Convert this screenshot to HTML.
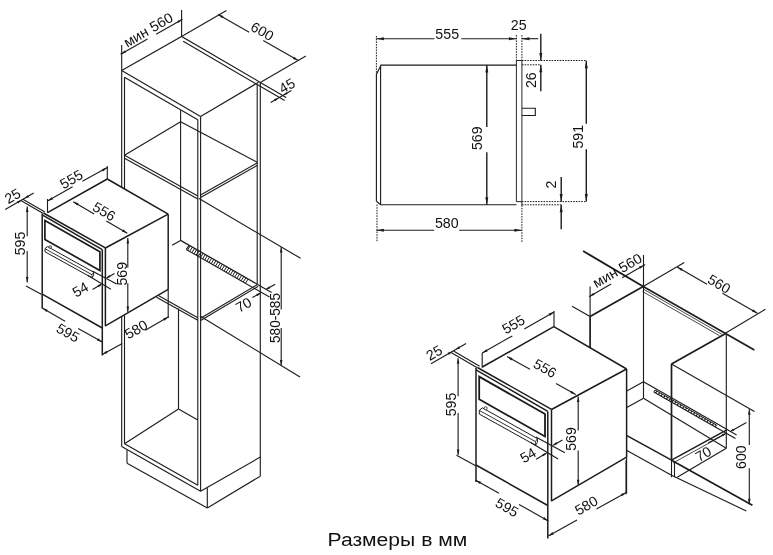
<!DOCTYPE html>
<html><head><meta charset="utf-8"><style>
html,body{margin:0;padding:0;background:#fff;}
svg{display:block;will-change:transform;font-family:"Liberation Sans",sans-serif;fill:#111;}
</style></head><body>
<svg width="773" height="555" viewBox="0 0 773 555">
<rect width="773" height="555" fill="#fff"/>
<path d="M121.7 70.6 L181.6 36.5 L260.3 82.4" fill="none" stroke="#1c1c1c" stroke-width="1.12" stroke-linejoin="miter"/>
<line x1="258.6" y1="82.2" x2="200.6" y2="116.5" stroke="#1c1c1c" stroke-width="1.12"/>
<line x1="121.7" y1="70.6" x2="200.6" y2="116.5" stroke="#1c1c1c" stroke-width="1.12"/>
<line x1="124.4" y1="77.2" x2="197.8" y2="119.7" stroke="#1c1c1c" stroke-width="1.12"/>
<line x1="183.2" y1="41.2" x2="257.2" y2="84.6" stroke="#1c1c1c" stroke-width="1.12"/>
<line x1="121.7" y1="70.6" x2="121.7" y2="446.5" stroke="#1c1c1c" stroke-width="1.12"/>
<line x1="124.5" y1="77.2" x2="124.5" y2="443.7" stroke="#1c1c1c" stroke-width="1.12"/>
<line x1="197.8" y1="119.7" x2="197.8" y2="485.2" stroke="#1c1c1c" stroke-width="1.12"/>
<line x1="200.6" y1="116.5" x2="200.6" y2="491.2" stroke="#1c1c1c" stroke-width="1.12"/>
<line x1="257.2" y1="84.6" x2="257.2" y2="284.4" stroke="#1c1c1c" stroke-width="1.12"/>
<line x1="260.3" y1="82.4" x2="260.3" y2="476.2" stroke="#1c1c1c" stroke-width="1.12"/>
<line x1="180.6" y1="110.3" x2="180.6" y2="240.4" stroke="#1c1c1c" stroke-width="1.1"/>
<line x1="124.5" y1="155.2" x2="180.6" y2="121.7" stroke="#1c1c1c" stroke-width="1.12"/>
<line x1="180.6" y1="121.7" x2="257.2" y2="162.3" stroke="#1c1c1c" stroke-width="1.12"/>
<line x1="124.5" y1="155.2" x2="197.8" y2="196.0" stroke="#1c1c1c" stroke-width="1.12"/>
<line x1="124.5" y1="158.2" x2="197.8" y2="199.0" stroke="#1c1c1c" stroke-width="1.12"/>
<line x1="200.6" y1="195.1" x2="257.2" y2="162.9" stroke="#1c1c1c" stroke-width="1.12"/>
<line x1="200.6" y1="197.6" x2="257.2" y2="165.4" stroke="#1c1c1c" stroke-width="1.12"/>
<line x1="157.5" y1="295.0" x2="197.8" y2="317.8" stroke="#1c1c1c" stroke-width="1.12"/>
<line x1="156.5" y1="297.3" x2="197.8" y2="320.3" stroke="#1c1c1c" stroke-width="1.12"/>
<line x1="200.6" y1="318.2" x2="257.2" y2="284.7" stroke="#1c1c1c" stroke-width="1.12"/>
<line x1="200.6" y1="320.5" x2="258.3" y2="286.3" stroke="#1c1c1c" stroke-width="1.12"/>
<line x1="180.6" y1="240.4" x2="172.1" y2="245.3" stroke="#1c1c1c" stroke-width="1.12"/>
<line x1="180.6" y1="240.4" x2="257.2" y2="284.2" stroke="#1c1c1c" stroke-width="1.25"/>
<line x1="257.2" y1="284.2" x2="271.6" y2="292.5" stroke="#1c1c1c" stroke-width="1.12"/>
<line x1="186.2" y1="249.4" x2="269.5" y2="297.1" stroke="#1c1c1c" stroke-width="1.12"/>
<line x1="186.2" y1="249.4" x2="189.3" y2="245.4" stroke="#1c1c1c" stroke-width="1.12"/>
<line x1="187.6" y1="250.2" x2="190.3" y2="245.9" stroke="#1c1c1c" stroke-width="1.0"/>
<line x1="189.7" y1="251.4" x2="192.4" y2="247.2" stroke="#1c1c1c" stroke-width="1.0"/>
<line x1="191.9" y1="252.7" x2="194.6" y2="248.4" stroke="#1c1c1c" stroke-width="1.0"/>
<line x1="194.0" y1="253.9" x2="196.7" y2="249.6" stroke="#1c1c1c" stroke-width="1.0"/>
<line x1="196.2" y1="255.1" x2="198.9" y2="250.8" stroke="#1c1c1c" stroke-width="1.0"/>
<line x1="198.3" y1="256.3" x2="201.0" y2="252.1" stroke="#1c1c1c" stroke-width="1.0"/>
<line x1="200.4" y1="257.5" x2="203.1" y2="253.3" stroke="#1c1c1c" stroke-width="1.0"/>
<line x1="202.6" y1="258.8" x2="205.3" y2="254.5" stroke="#1c1c1c" stroke-width="1.0"/>
<line x1="204.7" y1="260.0" x2="207.4" y2="255.7" stroke="#1c1c1c" stroke-width="1.0"/>
<line x1="206.9" y1="261.2" x2="209.6" y2="257.0" stroke="#1c1c1c" stroke-width="1.0"/>
<line x1="209.0" y1="262.4" x2="211.7" y2="258.2" stroke="#1c1c1c" stroke-width="1.0"/>
<line x1="211.1" y1="263.7" x2="213.8" y2="259.4" stroke="#1c1c1c" stroke-width="1.0"/>
<line x1="213.3" y1="264.9" x2="216.0" y2="260.6" stroke="#1c1c1c" stroke-width="1.0"/>
<line x1="215.4" y1="266.1" x2="218.1" y2="261.9" stroke="#1c1c1c" stroke-width="1.0"/>
<line x1="217.6" y1="267.3" x2="220.3" y2="263.1" stroke="#1c1c1c" stroke-width="1.0"/>
<line x1="219.7" y1="268.6" x2="222.4" y2="264.3" stroke="#1c1c1c" stroke-width="1.0"/>
<line x1="221.8" y1="269.8" x2="224.5" y2="265.5" stroke="#1c1c1c" stroke-width="1.0"/>
<line x1="224.0" y1="271.0" x2="226.7" y2="266.8" stroke="#1c1c1c" stroke-width="1.0"/>
<line x1="226.1" y1="272.2" x2="228.8" y2="268.0" stroke="#1c1c1c" stroke-width="1.0"/>
<line x1="228.3" y1="273.5" x2="231.0" y2="269.2" stroke="#1c1c1c" stroke-width="1.0"/>
<line x1="230.4" y1="274.7" x2="233.1" y2="270.4" stroke="#1c1c1c" stroke-width="1.0"/>
<line x1="232.5" y1="275.9" x2="235.2" y2="271.6" stroke="#1c1c1c" stroke-width="1.0"/>
<line x1="234.7" y1="277.1" x2="237.4" y2="272.9" stroke="#1c1c1c" stroke-width="1.0"/>
<line x1="236.8" y1="278.4" x2="239.5" y2="274.1" stroke="#1c1c1c" stroke-width="1.0"/>
<line x1="239.0" y1="279.6" x2="241.7" y2="275.3" stroke="#1c1c1c" stroke-width="1.0"/>
<line x1="241.1" y1="280.8" x2="243.8" y2="276.5" stroke="#1c1c1c" stroke-width="1.0"/>
<line x1="243.2" y1="282.0" x2="245.9" y2="277.8" stroke="#1c1c1c" stroke-width="1.0"/>
<line x1="245.4" y1="283.3" x2="248.1" y2="279.0" stroke="#1c1c1c" stroke-width="1.0"/>
<line x1="121.7" y1="446.5" x2="200.6" y2="491.2" stroke="#1c1c1c" stroke-width="1.12"/>
<line x1="124.5" y1="443.7" x2="197.8" y2="485.2" stroke="#1c1c1c" stroke-width="1.12"/>
<line x1="124.5" y1="443.7" x2="178.5" y2="409.0" stroke="#1c1c1c" stroke-width="1.12"/>
<line x1="178.5" y1="409.0" x2="197.8" y2="420.1" stroke="#1c1c1c" stroke-width="1.12"/>
<line x1="178.5" y1="308.5" x2="178.5" y2="409.0" stroke="#1c1c1c" stroke-width="1.12"/>
<line x1="200.6" y1="491.2" x2="260.3" y2="457.1" stroke="#1c1c1c" stroke-width="1.12"/>
<line x1="127.0" y1="450.1" x2="127.0" y2="463.2" stroke="#1c1c1c" stroke-width="1.12"/>
<line x1="127.0" y1="463.2" x2="207.3" y2="507.9" stroke="#1c1c1c" stroke-width="1.12"/>
<line x1="207.3" y1="487.5" x2="207.3" y2="507.9" stroke="#1c1c1c" stroke-width="1.12"/>
<line x1="207.3" y1="507.9" x2="260.3" y2="476.2" stroke="#1c1c1c" stroke-width="1.12"/>
<line x1="121.7" y1="45.0" x2="121.7" y2="70.6" stroke="#1c1c1c" stroke-width="1.12"/>
<line x1="181.6" y1="10.0" x2="181.6" y2="36.5" stroke="#1c1c1c" stroke-width="1.12"/>
<line x1="120.6" y1="54.2" x2="147.5" y2="39.0" stroke="#1c1c1c" stroke-width="1.12"/>
<line x1="156.1" y1="34.2" x2="182.6" y2="19.3" stroke="#1c1c1c" stroke-width="1.12"/>
<polygon points="120.6,54.2 124.8,50.4 126.0,52.6" fill="#1c1c1c"/>
<polygon points="182.6,19.3 178.4,23.1 177.2,20.9" fill="#1c1c1c"/>
<text transform="translate(148.0 29.5) rotate(-30) scale(1.02 1)" font-size="14.2" text-anchor="middle" y="5.28">мин 560</text>
<line x1="181.6" y1="36.5" x2="226.5" y2="10.4" stroke="#1c1c1c" stroke-width="1.12"/>
<line x1="260.3" y1="82.4" x2="305.9" y2="56.1" stroke="#1c1c1c" stroke-width="1.12"/>
<line x1="218.1" y1="14.4" x2="249.2" y2="32.3" stroke="#1c1c1c" stroke-width="1.12"/>
<line x1="263.2" y1="40.4" x2="298.3" y2="60.6" stroke="#1c1c1c" stroke-width="1.12"/>
<polygon points="218.1,14.4 223.5,16.0 222.2,18.3" fill="#1c1c1c"/>
<polygon points="298.3,60.6 292.9,59.0 294.2,56.7" fill="#1c1c1c"/>
<text transform="translate(262.5 31.0) rotate(30) scale(1.0 1)" font-size="14.2" text-anchor="middle" y="5.28">600</text>
<line x1="260.3" y1="82.4" x2="286.2" y2="97.5" stroke="#1c1c1c" stroke-width="1.12"/>
<line x1="257.2" y1="84.6" x2="284.7" y2="100.6" stroke="#1c1c1c" stroke-width="1.12"/>
<line x1="270.7" y1="102.4" x2="291.4" y2="90.5" stroke="#1c1c1c" stroke-width="1.12"/>
<polygon points="278.6,97.9 275.3,101.2 274.1,99.1" fill="#1c1c1c"/>
<polygon points="283.2,95.2 286.5,91.9 287.7,94.0" fill="#1c1c1c"/>
<text transform="translate(286.8 85.4) rotate(-30) scale(1.0 1)" font-size="14.2" text-anchor="middle" y="5.28">45</text>
<line x1="199.0" y1="198.6" x2="300.6" y2="258.3" stroke="#1c1c1c" stroke-width="1.12"/>
<line x1="200.0" y1="316.0" x2="300.0" y2="377.0" stroke="#1c1c1c" stroke-width="1.12"/>
<line x1="281.2" y1="247.0" x2="281.2" y2="309.5" stroke="#1c1c1c" stroke-width="1.12"/>
<line x1="281.2" y1="328.0" x2="281.2" y2="365.4" stroke="#1c1c1c" stroke-width="1.12"/>
<polygon points="281.2,247.0 282.5,252.5 279.9,252.5" fill="#1c1c1c"/>
<polygon points="281.2,365.4 279.9,359.9 282.5,359.9" fill="#1c1c1c"/>
<text transform="translate(274.3 318.0) rotate(-90) scale(0.96 1)" font-size="14.2" text-anchor="middle" y="5.28">580-585</text>
<line x1="252.4" y1="297.6" x2="260.7" y2="293.0" stroke="#1c1c1c" stroke-width="1.12"/>
<polygon points="260.7,293.0 257.3,296.2 256.2,294.1" fill="#1c1c1c"/>
<line x1="275.2" y1="284.2" x2="265.9" y2="289.5" stroke="#1c1c1c" stroke-width="1.12"/>
<polygon points="265.9,289.5 269.2,286.2 270.4,288.3" fill="#1c1c1c"/>
<text transform="translate(243.4 304.6) rotate(-30) scale(1.0 1)" font-size="14.2" text-anchor="middle" y="5.28">70</text>
<path d="M42.2 213.4 L47.5 212.6 L107.3 179.0 L168.2 214.2 L168.2 289.9 L105.5 326.2 L103.3 328.3 L42.2 294.2 Z" fill="#fff" stroke="#1c1c1c" stroke-width="0" stroke-linejoin="miter"/>
<line x1="42.2" y1="213.4" x2="42.2" y2="308.5" stroke="#1c1c1c" stroke-width="1.5"/>
<line x1="43.4" y1="213.0" x2="105.4" y2="247.8" stroke="#1c1c1c" stroke-width="1.5"/>
<line x1="42.2" y1="214.9" x2="102.3" y2="249.6" stroke="#1c1c1c" stroke-width="1.5"/>
<line x1="42.2" y1="294.2" x2="102.3" y2="328.0" stroke="#1c1c1c" stroke-width="1.5"/>
<line x1="102.3" y1="249.6" x2="102.3" y2="355.5" stroke="#1c1c1c" stroke-width="1.5"/>
<line x1="105.4" y1="247.8" x2="105.4" y2="326.2" stroke="#1c1c1c" stroke-width="1.5"/>
<line x1="47.5" y1="212.6" x2="107.3" y2="179.0" stroke="#1c1c1c" stroke-width="1.5"/>
<line x1="107.3" y1="179.0" x2="168.2" y2="214.2" stroke="#1c1c1c" stroke-width="1.5"/>
<line x1="168.2" y1="214.2" x2="105.4" y2="248.0" stroke="#1c1c1c" stroke-width="1.5"/>
<line x1="168.2" y1="214.2" x2="168.2" y2="289.4" stroke="#1c1c1c" stroke-width="1.5"/>
<line x1="168.2" y1="289.4" x2="168.2" y2="318.0" stroke="#1c1c1c" stroke-width="1.12"/>
<line x1="105.4" y1="325.8" x2="168.2" y2="289.4" stroke="#1c1c1c" stroke-width="1.5"/>
<path d="M44.9 220.6 L99.9 251.7 L99.9 270.5 L44.9 239.4 Z" fill="none" stroke="#1c1c1c" stroke-width="1.7" stroke-linejoin="miter"/>
<path d="M47.5 246.6 L93.6 272.2 L93.6 275.4 L92.0 277.8 L45.0 251.8 L45.0 248.7 Z" fill="#fff" stroke="#1c1c1c" stroke-width="1.0" stroke-linejoin="miter"/>
<line x1="45.0" y1="248.7" x2="92.0" y2="274.7" stroke="#1c1c1c" stroke-width="0.9"/>
<line x1="92.0" y1="274.7" x2="93.6" y2="272.2" stroke="#1c1c1c" stroke-width="0.8"/>
<line x1="92.0" y1="274.7" x2="92.0" y2="277.8" stroke="#1c1c1c" stroke-width="0.8"/>
<circle cx="50.2" cy="247.0" r="1.3" fill="#fff" stroke="#1c1c1c" stroke-width="0.8"/>
<line x1="92.3" y1="271.0" x2="116.6" y2="284.0" stroke="#1c1c1c" stroke-width="1.12"/>
<line x1="87.6" y1="275.2" x2="110.9" y2="289.2" stroke="#1c1c1c" stroke-width="1.12"/>
<line x1="92.5" y1="289.4" x2="101.0" y2="284.5" stroke="#1c1c1c" stroke-width="1.12"/>
<polygon points="102.1,283.9 98.8,287.2 97.6,285.1" fill="#1c1c1c"/>
<line x1="114.5" y1="273.4" x2="107.0" y2="277.7" stroke="#1c1c1c" stroke-width="1.12"/>
<polygon points="106.0,278.2 109.3,274.9 110.5,277.0" fill="#1c1c1c"/>
<line x1="47.5" y1="199.0" x2="47.5" y2="212.8" stroke="#1c1c1c" stroke-width="1.12"/>
<line x1="107.3" y1="166.0" x2="107.3" y2="179.0" stroke="#1c1c1c" stroke-width="1.12"/>
<line x1="47.5" y1="201.1" x2="72.6" y2="186.8" stroke="#1c1c1c" stroke-width="1.12"/>
<line x1="82.4" y1="181.3" x2="107.3" y2="167.6" stroke="#1c1c1c" stroke-width="1.12"/>
<polygon points="47.5,201.1 51.7,197.3 52.9,199.5" fill="#1c1c1c"/>
<polygon points="107.3,167.6 103.1,171.4 101.9,169.2" fill="#1c1c1c"/>
<text transform="translate(71.2 179.0) rotate(-30) scale(1.0 1)" font-size="14.2" text-anchor="middle" y="5.28">555</text>
<line x1="5.2" y1="209.6" x2="33.7" y2="193.0" stroke="#1c1c1c" stroke-width="1.12"/>
<line x1="20.8" y1="200.6" x2="42.8" y2="213.3" stroke="#1c1c1c" stroke-width="1.12"/>
<line x1="22.9" y1="199.3" x2="44.9" y2="212.0" stroke="#1c1c1c" stroke-width="1.12"/>
<polygon points="21.6,200.1 18.3,203.4 17.1,201.3" fill="#1c1c1c"/>
<polygon points="24.6,198.4 27.9,195.1 29.1,197.2" fill="#1c1c1c"/>
<text transform="translate(12.4 195.7) rotate(-30) scale(1.0 1)" font-size="14.2" text-anchor="middle" y="5.28">25</text>
<line x1="27.2" y1="206.4" x2="27.2" y2="236.2" stroke="#1c1c1c" stroke-width="1.12"/>
<line x1="27.2" y1="251.1" x2="27.2" y2="282.5" stroke="#1c1c1c" stroke-width="1.12"/>
<polygon points="27.2,206.4 28.5,211.9 25.9,211.9" fill="#1c1c1c"/>
<polygon points="27.2,282.5 25.9,277.0 28.5,277.0" fill="#1c1c1c"/>
<line x1="26.0" y1="286.1" x2="41.7" y2="294.6" stroke="#1c1c1c" stroke-width="1.12"/>
<text transform="translate(19.8 243.5) rotate(-90) scale(1.0 1)" font-size="14.2" text-anchor="middle" y="5.28">595</text>
<line x1="73.2" y1="201.7" x2="94.2" y2="213.9" stroke="#1c1c1c" stroke-width="1.12"/>
<line x1="106.3" y1="221.0" x2="127.3" y2="233.2" stroke="#1c1c1c" stroke-width="1.12"/>
<polygon points="73.2,201.7 78.6,203.3 77.3,205.6" fill="#1c1c1c"/>
<polygon points="127.3,233.2 121.9,231.6 123.2,229.3" fill="#1c1c1c"/>
<text transform="translate(104.3 211.1) rotate(30) scale(1.0 1)" font-size="14.2" text-anchor="middle" y="5.28">556</text>
<line x1="127.8" y1="238.1" x2="127.8" y2="267.5" stroke="#1c1c1c" stroke-width="1.12"/>
<line x1="127.8" y1="283.3" x2="127.8" y2="312.0" stroke="#1c1c1c" stroke-width="1.12"/>
<polygon points="127.8,238.1 129.1,243.6 126.5,243.6" fill="#1c1c1c"/>
<polygon points="127.8,312.0 126.5,306.5 129.1,306.5" fill="#1c1c1c"/>
<text transform="translate(121.3 273.7) rotate(-90) scale(1.0 1)" font-size="14.2" text-anchor="middle" y="5.28">569</text>
<text transform="translate(80.2 289.2) rotate(-30) scale(1.0 1)" font-size="14.2" text-anchor="middle" y="5.28">54</text>
<line x1="42.2" y1="308.1" x2="65.1" y2="321.2" stroke="#1c1c1c" stroke-width="1.12"/>
<line x1="78.2" y1="328.5" x2="102.3" y2="342.0" stroke="#1c1c1c" stroke-width="1.12"/>
<polygon points="42.2,308.1 47.6,309.7 46.4,311.9" fill="#1c1c1c"/>
<polygon points="102.3,342.0 96.9,340.4 98.1,338.2" fill="#1c1c1c"/>
<text transform="translate(68.1 332.5) rotate(30) scale(1.0 1)" font-size="14.2" text-anchor="middle" y="5.28">595</text>
<line x1="102.3" y1="354.6" x2="122.3" y2="343.5" stroke="#1c1c1c" stroke-width="1.12"/>
<line x1="145.3" y1="330.3" x2="168.6" y2="316.8" stroke="#1c1c1c" stroke-width="1.12"/>
<polygon points="102.3,354.6 106.4,350.7 107.7,353.0" fill="#1c1c1c"/>
<polygon points="168.6,316.8 164.5,320.7 163.2,318.4" fill="#1c1c1c"/>
<text transform="translate(135.9 329.1) rotate(-30) scale(1.0 1)" font-size="14.2" text-anchor="middle" y="5.28">580</text>
<path d="M376.4 201.2 L376.4 74.4 L381.0 65.1 L516.4 65.1" fill="none" stroke="#1c1c1c" stroke-width="1.12" stroke-linejoin="miter"/>
<path d="M376.4 201.2 L380.6 204.8 L516.4 204.8" fill="none" stroke="#1c1c1c" stroke-width="1.12" stroke-linejoin="miter"/>
<line x1="380.6" y1="65.0" x2="380.6" y2="204.8" stroke="#1c1c1c" stroke-width="1.12"/>
<path d="M516.4 201.6 L516.4 60.5 L521.9 60.5 L521.9 205.2" fill="none" stroke="#1c1c1c" stroke-width="0.95" stroke-linejoin="miter"/>
<line x1="516.4" y1="201.6" x2="521.9" y2="201.6" stroke="#1c1c1c" stroke-width="0.95"/>
<path d="M521.9 108.2 L535.3 108.2 L535.3 115.5 L521.9 115.5" fill="none" stroke="#1c1c1c" stroke-width="1.12" stroke-linejoin="miter"/>
<line x1="521.9" y1="60.5" x2="586.3" y2="60.5" stroke="#1c1c1c" stroke-width="1.0" stroke-dasharray="1.6 1.1"/>
<line x1="521.9" y1="64.8" x2="540.8" y2="64.8" stroke="#1c1c1c" stroke-width="1.0" stroke-dasharray="1.6 1.1"/>
<line x1="521.9" y1="201.6" x2="586.3" y2="201.6" stroke="#1c1c1c" stroke-width="1.0" stroke-dasharray="1.6 1.1"/>
<line x1="521.9" y1="204.8" x2="561.2" y2="204.8" stroke="#1c1c1c" stroke-width="1.0" stroke-dasharray="1.6 1.1"/>
<line x1="376.4" y1="36.0" x2="376.4" y2="74.0" stroke="#1c1c1c" stroke-width="1.0" stroke-dasharray="1.6 1.1"/>
<line x1="516.4" y1="35.0" x2="516.4" y2="60.5" stroke="#1c1c1c" stroke-width="1.0" stroke-dasharray="1.6 1.1"/>
<line x1="521.9" y1="35.0" x2="521.9" y2="60.5" stroke="#1c1c1c" stroke-width="1.0" stroke-dasharray="1.6 1.1"/>
<line x1="377.0" y1="204.5" x2="377.0" y2="242.3" stroke="#1c1c1c" stroke-width="1.0" stroke-dasharray="1.6 1.1"/>
<line x1="521.9" y1="205.2" x2="521.9" y2="242.3" stroke="#1c1c1c" stroke-width="1.0" stroke-dasharray="1.6 1.1"/>
<line x1="376.4" y1="38.7" x2="434.4" y2="38.7" stroke="#1c1c1c" stroke-width="1.12"/>
<line x1="461.3" y1="38.7" x2="516.4" y2="38.7" stroke="#1c1c1c" stroke-width="1.12"/>
<polygon points="376.4,38.7 383.9,37.2 383.9,40.2" fill="#1c1c1c"/>
<polygon points="516.4,38.7 508.9,40.2 508.9,37.2" fill="#1c1c1c"/>
<text transform="translate(447.2 33.6) rotate(0) scale(1.0 1)" font-size="14.2" text-anchor="middle" y="5.28">555</text>
<line x1="521.9" y1="38.7" x2="538.2" y2="38.7" stroke="#1c1c1c" stroke-width="1.12"/>
<polygon points="521.9,38.7 529.4,37.2 529.4,40.2" fill="#1c1c1c"/>
<text transform="translate(518.7 25.2) rotate(0) scale(1.0 1)" font-size="14.2" text-anchor="middle" y="5.28">25</text>
<line x1="540.8" y1="33.7" x2="540.8" y2="60.5" stroke="#1c1c1c" stroke-width="1.4"/>
<polygon points="540.8,60.5 539.3,53.0 542.3,53.0" fill="#1c1c1c"/>
<line x1="540.8" y1="91.2" x2="540.8" y2="64.8" stroke="#1c1c1c" stroke-width="1.4"/>
<polygon points="540.8,64.8 542.3,72.3 539.3,72.3" fill="#1c1c1c"/>
<text transform="translate(530.5 80.2) rotate(-90) scale(1.0 1)" font-size="14.2" text-anchor="middle" y="5.28">26</text>
<line x1="486.8" y1="65.0" x2="486.8" y2="127.1" stroke="#1c1c1c" stroke-width="1.4"/>
<line x1="486.8" y1="152.2" x2="486.8" y2="204.8" stroke="#1c1c1c" stroke-width="1.4"/>
<polygon points="486.8,65.0 488.3,72.5 485.3,72.5" fill="#1c1c1c"/>
<polygon points="486.8,204.8 485.3,197.3 488.3,197.3" fill="#1c1c1c"/>
<text transform="translate(476.5 138.2) rotate(-90) scale(1.0 1)" font-size="14.2" text-anchor="middle" y="5.28">569</text>
<line x1="586.3" y1="60.7" x2="586.3" y2="123.7" stroke="#1c1c1c" stroke-width="1.4"/>
<line x1="586.3" y1="149.2" x2="586.3" y2="201.4" stroke="#1c1c1c" stroke-width="1.4"/>
<polygon points="586.3,60.7 587.8,68.2 584.8,68.2" fill="#1c1c1c"/>
<polygon points="586.3,201.4 584.8,193.9 587.8,193.9" fill="#1c1c1c"/>
<text transform="translate(577.7 136.7) rotate(-90) scale(1.0 1)" font-size="14.2" text-anchor="middle" y="5.28">591</text>
<line x1="561.2" y1="177.1" x2="561.2" y2="201.6" stroke="#1c1c1c" stroke-width="1.4"/>
<polygon points="561.2,201.6 559.7,194.1 562.7,194.1" fill="#1c1c1c"/>
<line x1="561.2" y1="229.2" x2="561.2" y2="204.8" stroke="#1c1c1c" stroke-width="1.4"/>
<polygon points="561.2,204.8 562.7,212.3 559.7,212.3" fill="#1c1c1c"/>
<text transform="translate(550.6 184.5) rotate(-90) scale(1.0 1)" font-size="14.2" text-anchor="middle" y="5.28">2</text>
<line x1="376.4" y1="230.2" x2="434.2" y2="230.2" stroke="#1c1c1c" stroke-width="1.12"/>
<line x1="459.2" y1="230.2" x2="521.9" y2="230.2" stroke="#1c1c1c" stroke-width="1.12"/>
<polygon points="376.4,230.2 383.9,228.7 383.9,231.7" fill="#1c1c1c"/>
<polygon points="521.9,230.2 514.4,231.7 514.4,228.7" fill="#1c1c1c"/>
<text transform="translate(446.8 223.0) rotate(0) scale(1.0 1)" font-size="14.2" text-anchor="middle" y="5.28">580</text>
<line x1="583.1" y1="251.0" x2="643.2" y2="286.5" stroke="#1c1c1c" stroke-width="1.9"/>
<line x1="643.2" y1="286.5" x2="754.4" y2="350.1" stroke="#1c1c1c" stroke-width="1.7"/>
<line x1="643.0" y1="288.9" x2="722.0" y2="334.4" stroke="#1c1c1c" stroke-width="0.8"/>
<line x1="642.6" y1="291.5" x2="719.5" y2="335.7" stroke="#1c1c1c" stroke-width="0.8"/>
<line x1="590.1" y1="316.6" x2="643.2" y2="286.5" stroke="#1c1c1c" stroke-width="1.7"/>
<line x1="572.0" y1="306.2" x2="590.1" y2="316.6" stroke="#1c1c1c" stroke-width="1.12"/>
<line x1="590.1" y1="286.5" x2="590.1" y2="316.6" stroke="#1c1c1c" stroke-width="1.12"/>
<line x1="590.1" y1="316.6" x2="590.1" y2="348.3" stroke="#1c1c1c" stroke-width="1.7"/>
<line x1="643.5" y1="255.0" x2="643.5" y2="398.3" stroke="#1c1c1c" stroke-width="1.12"/>
<line x1="560.0" y1="331.2" x2="590.1" y2="348.3" stroke="#1c1c1c" stroke-width="1.7"/>
<line x1="725.3" y1="333.8" x2="671.5" y2="364.0" stroke="#1c1c1c" stroke-width="1.7"/>
<line x1="671.5" y1="364.0" x2="671.5" y2="460.2" stroke="#1c1c1c" stroke-width="1.7"/>
<line x1="671.5" y1="364.0" x2="754.4" y2="411.6" stroke="#1c1c1c" stroke-width="1.12"/>
<line x1="726.3" y1="334.0" x2="726.3" y2="448.3" stroke="#1c1c1c" stroke-width="1.12"/>
<line x1="643.5" y1="381.7" x2="625.9" y2="391.4" stroke="#1c1c1c" stroke-width="1.12"/>
<line x1="643.5" y1="398.3" x2="625.9" y2="408.1" stroke="#1c1c1c" stroke-width="1.12"/>
<line x1="643.5" y1="381.7" x2="726.3" y2="429.0" stroke="#1c1c1c" stroke-width="1.2"/>
<line x1="726.3" y1="429.0" x2="736.6" y2="434.9" stroke="#1c1c1c" stroke-width="1.12"/>
<line x1="655.0" y1="390.0" x2="716.5" y2="425.1" stroke="#1c1c1c" stroke-width="1.0"/>
<line x1="653.8" y1="392.0" x2="735.5" y2="438.6" stroke="#1c1c1c" stroke-width="1.1"/>
<line x1="653.8" y1="392.0" x2="655.0" y2="390.0" stroke="#1c1c1c" stroke-width="1.0"/>
<line x1="655.5" y1="393.0" x2="657.0" y2="391.1" stroke="#1c1c1c" stroke-width="1.15"/>
<line x1="658.2" y1="394.5" x2="659.7" y2="392.6" stroke="#1c1c1c" stroke-width="1.15"/>
<line x1="660.9" y1="396.0" x2="662.4" y2="394.1" stroke="#1c1c1c" stroke-width="1.15"/>
<line x1="663.6" y1="397.6" x2="665.1" y2="395.7" stroke="#1c1c1c" stroke-width="1.15"/>
<line x1="666.3" y1="399.1" x2="667.8" y2="397.2" stroke="#1c1c1c" stroke-width="1.15"/>
<line x1="669.0" y1="400.7" x2="670.5" y2="398.8" stroke="#1c1c1c" stroke-width="1.15"/>
<line x1="671.7" y1="402.2" x2="673.2" y2="400.3" stroke="#1c1c1c" stroke-width="1.15"/>
<line x1="674.4" y1="403.7" x2="675.9" y2="401.8" stroke="#1c1c1c" stroke-width="1.15"/>
<line x1="677.1" y1="405.3" x2="678.6" y2="403.4" stroke="#1c1c1c" stroke-width="1.15"/>
<line x1="679.8" y1="406.8" x2="681.3" y2="404.9" stroke="#1c1c1c" stroke-width="1.15"/>
<line x1="682.5" y1="408.4" x2="684.0" y2="406.5" stroke="#1c1c1c" stroke-width="1.15"/>
<line x1="685.2" y1="409.9" x2="686.7" y2="408.0" stroke="#1c1c1c" stroke-width="1.15"/>
<line x1="687.9" y1="411.5" x2="689.4" y2="409.6" stroke="#1c1c1c" stroke-width="1.15"/>
<line x1="690.6" y1="413.0" x2="692.1" y2="411.1" stroke="#1c1c1c" stroke-width="1.15"/>
<line x1="693.3" y1="414.5" x2="694.8" y2="412.6" stroke="#1c1c1c" stroke-width="1.15"/>
<line x1="696.0" y1="416.1" x2="697.5" y2="414.2" stroke="#1c1c1c" stroke-width="1.15"/>
<line x1="698.7" y1="417.6" x2="700.2" y2="415.7" stroke="#1c1c1c" stroke-width="1.15"/>
<line x1="701.4" y1="419.2" x2="702.9" y2="417.3" stroke="#1c1c1c" stroke-width="1.15"/>
<line x1="704.1" y1="420.7" x2="705.6" y2="418.8" stroke="#1c1c1c" stroke-width="1.15"/>
<line x1="706.8" y1="422.2" x2="708.3" y2="420.3" stroke="#1c1c1c" stroke-width="1.15"/>
<line x1="709.5" y1="423.8" x2="711.0" y2="421.9" stroke="#1c1c1c" stroke-width="1.15"/>
<line x1="712.2" y1="425.3" x2="713.7" y2="423.4" stroke="#1c1c1c" stroke-width="1.15"/>
<line x1="714.9" y1="426.9" x2="716.4" y2="425.0" stroke="#1c1c1c" stroke-width="1.15"/>
<line x1="643.5" y1="398.3" x2="726.3" y2="448.3" stroke="#1c1c1c" stroke-width="1.12"/>
<line x1="626.0" y1="435.1" x2="671.5" y2="460.2" stroke="#1c1c1c" stroke-width="1.5"/>
<line x1="671.5" y1="460.2" x2="752.4" y2="505.3" stroke="#1c1c1c" stroke-width="1.7"/>
<line x1="626.0" y1="450.1" x2="671.5" y2="475.2" stroke="#1c1c1c" stroke-width="1.12"/>
<line x1="671.5" y1="475.2" x2="746.3" y2="511.0" stroke="#1c1c1c" stroke-width="1.12"/>
<line x1="671.5" y1="460.2" x2="726.3" y2="430.1" stroke="#1c1c1c" stroke-width="1.4"/>
<line x1="673.0" y1="463.0" x2="726.3" y2="433.5" stroke="#1c1c1c" stroke-width="0.8"/>
<line x1="677.2" y1="477.2" x2="726.3" y2="448.3" stroke="#1c1c1c" stroke-width="1.12"/>
<line x1="671.5" y1="460.2" x2="671.5" y2="477.2" stroke="#1c1c1c" stroke-width="1.12"/>
<line x1="674.5" y1="462.0" x2="674.5" y2="477.2" stroke="#1c1c1c" stroke-width="1.12"/>
<line x1="626.0" y1="458.2" x2="626.0" y2="494.2" stroke="#1c1c1c" stroke-width="1.12"/>
<path d="M476.0 368.0 L482.3 367.0 L553.8 326.7 L626.6 369.0 L626.6 459.8 L551.6 503.4 L549.0 505.9 L476.0 465.0 Z" fill="#fff" stroke="#1c1c1c" stroke-width="0" stroke-linejoin="miter"/>
<line x1="476.0" y1="368.0" x2="476.0" y2="482.1" stroke="#1c1c1c" stroke-width="1.5"/>
<line x1="477.4" y1="367.5" x2="551.5" y2="409.3" stroke="#1c1c1c" stroke-width="1.5"/>
<line x1="476.0" y1="369.8" x2="547.8" y2="411.4" stroke="#1c1c1c" stroke-width="1.5"/>
<line x1="476.0" y1="465.0" x2="547.8" y2="505.5" stroke="#1c1c1c" stroke-width="1.5"/>
<line x1="547.8" y1="411.4" x2="547.8" y2="538.5" stroke="#1c1c1c" stroke-width="1.5"/>
<line x1="551.5" y1="409.3" x2="551.5" y2="501.3" stroke="#1c1c1c" stroke-width="1.5"/>
<line x1="482.3" y1="367.0" x2="553.8" y2="326.7" stroke="#1c1c1c" stroke-width="1.5"/>
<line x1="553.8" y1="326.7" x2="626.6" y2="369.0" stroke="#1c1c1c" stroke-width="1.5"/>
<line x1="626.6" y1="369.0" x2="551.5" y2="409.5" stroke="#1c1c1c" stroke-width="1.5"/>
<line x1="626.6" y1="369.0" x2="626.6" y2="457.2" stroke="#1c1c1c" stroke-width="1.5"/>
<line x1="626.6" y1="457.2" x2="626.6" y2="493.5" stroke="#1c1c1c" stroke-width="1.12"/>
<line x1="551.5" y1="500.8" x2="626.6" y2="457.2" stroke="#1c1c1c" stroke-width="1.5"/>
<path d="M479.2 376.6 L545.0 414.0 L545.0 436.5 L479.2 399.2 Z" fill="none" stroke="#1c1c1c" stroke-width="1.8" stroke-linejoin="miter"/>
<path d="M482.3 407.8 L537.4 438.6 L537.4 442.4 L535.5 445.3 L479.3 414.1 L479.3 410.4 Z" fill="#fff" stroke="#1c1c1c" stroke-width="1.0" stroke-linejoin="miter"/>
<line x1="479.3" y1="410.4" x2="535.5" y2="441.6" stroke="#1c1c1c" stroke-width="0.9"/>
<line x1="535.5" y1="441.6" x2="537.4" y2="438.6" stroke="#1c1c1c" stroke-width="0.8"/>
<line x1="535.5" y1="441.6" x2="535.5" y2="445.3" stroke="#1c1c1c" stroke-width="0.8"/>
<circle cx="485.6" cy="408.3" r="1.5535" fill="#fff" stroke="#1c1c1c" stroke-width="0.8"/>
<line x1="535.9" y1="437.1" x2="564.9" y2="452.7" stroke="#1c1c1c" stroke-width="1.12"/>
<line x1="530.3" y1="442.2" x2="558.1" y2="459.0" stroke="#1c1c1c" stroke-width="1.12"/>
<line x1="536.1" y1="459.2" x2="546.3" y2="453.3" stroke="#1c1c1c" stroke-width="1.12"/>
<polygon points="547.6,452.6 543.5,456.3 542.3,454.2" fill="#1c1c1c"/>
<line x1="562.4" y1="440.0" x2="553.4" y2="445.2" stroke="#1c1c1c" stroke-width="1.12"/>
<polygon points="552.2,445.8 556.3,442.1 557.5,444.1" fill="#1c1c1c"/>
<line x1="482.2" y1="353.1" x2="482.2" y2="367.8" stroke="#1c1c1c" stroke-width="1.12"/>
<line x1="554.0" y1="311.0" x2="554.0" y2="327.1" stroke="#1c1c1c" stroke-width="1.12"/>
<line x1="482.2" y1="353.1" x2="512.3" y2="335.9" stroke="#1c1c1c" stroke-width="1.12"/>
<line x1="524.3" y1="329.0" x2="554.0" y2="312.0" stroke="#1c1c1c" stroke-width="1.12"/>
<polygon points="482.2,353.1 486.3,349.2 487.6,351.5" fill="#1c1c1c"/>
<polygon points="554.0,312.0 549.9,315.9 548.6,313.6" fill="#1c1c1c"/>
<text transform="translate(513.3 324.1) rotate(-30) scale(1.0 1)" font-size="14.2" text-anchor="middle" y="5.28">555</text>
<line x1="431.0" y1="363.8" x2="466.1" y2="343.5" stroke="#1c1c1c" stroke-width="1.12"/>
<line x1="451.1" y1="352.5" x2="477.2" y2="367.8" stroke="#1c1c1c" stroke-width="1.12"/>
<line x1="453.6" y1="351.0" x2="479.6" y2="366.2" stroke="#1c1c1c" stroke-width="1.12"/>
<polygon points="452.2,351.6 448.9,354.9 447.7,352.8" fill="#1c1c1c"/>
<polygon points="455.6,349.6 458.9,346.3 460.1,348.4" fill="#1c1c1c"/>
<text transform="translate(434.0 352.5) rotate(-30) scale(1.0 1)" font-size="14.2" text-anchor="middle" y="5.28">25</text>
<line x1="458.1" y1="358.2" x2="458.1" y2="396.2" stroke="#1c1c1c" stroke-width="1.12"/>
<line x1="458.1" y1="413.0" x2="458.1" y2="455.1" stroke="#1c1c1c" stroke-width="1.12"/>
<polygon points="458.1,358.2 459.4,363.7 456.8,363.7" fill="#1c1c1c"/>
<polygon points="458.1,455.1 456.8,449.6 459.4,449.6" fill="#1c1c1c"/>
<line x1="456.5" y1="455.3" x2="475.7" y2="465.7" stroke="#1c1c1c" stroke-width="1.12"/>
<text transform="translate(450.5 404.5) rotate(-90) scale(1.0 1)" font-size="14.2" text-anchor="middle" y="5.28">595</text>
<line x1="507.1" y1="356.6" x2="530.0" y2="369.3" stroke="#1c1c1c" stroke-width="1.12"/>
<line x1="556.0" y1="383.6" x2="575.7" y2="394.5" stroke="#1c1c1c" stroke-width="1.12"/>
<polygon points="507.1,356.6 512.5,358.1 511.3,360.4" fill="#1c1c1c"/>
<polygon points="575.7,394.5 570.3,393.0 571.5,390.7" fill="#1c1c1c"/>
<text transform="translate(545.2 368.0) rotate(30) scale(1.0 1)" font-size="14.2" text-anchor="middle" y="5.28">556</text>
<line x1="578.2" y1="396.5" x2="578.2" y2="430.5" stroke="#1c1c1c" stroke-width="1.12"/>
<line x1="578.2" y1="450.5" x2="578.2" y2="485.2" stroke="#1c1c1c" stroke-width="1.12"/>
<polygon points="578.2,396.5 579.5,402.0 576.9,402.0" fill="#1c1c1c"/>
<polygon points="578.2,485.2 576.9,479.7 579.5,479.7" fill="#1c1c1c"/>
<text transform="translate(571.0 439.0) rotate(-90) scale(1.0 1)" font-size="14.2" text-anchor="middle" y="5.28">569</text>
<text transform="translate(527.9 455.0) rotate(-30) scale(1.0 1)" font-size="14.2" text-anchor="middle" y="5.28">54</text>
<line x1="475.7" y1="480.2" x2="499.0" y2="493.2" stroke="#1c1c1c" stroke-width="1.12"/>
<line x1="519.0" y1="504.4" x2="548.3" y2="520.9" stroke="#1c1c1c" stroke-width="1.12"/>
<polygon points="475.7,480.2 481.1,481.8 479.9,484.0" fill="#1c1c1c"/>
<polygon points="548.3,520.9 542.9,519.3 544.1,517.1" fill="#1c1c1c"/>
<text transform="translate(507.2 507.2) rotate(30) scale(1.0 1)" font-size="14.2" text-anchor="middle" y="5.28">595</text>
<line x1="548.3" y1="535.9" x2="577.0" y2="519.9" stroke="#1c1c1c" stroke-width="1.12"/>
<line x1="596.5" y1="509.1" x2="626.3" y2="492.5" stroke="#1c1c1c" stroke-width="1.12"/>
<polygon points="548.3,535.9 552.5,532.1 553.7,534.4" fill="#1c1c1c"/>
<polygon points="626.3,492.5 622.1,496.3 620.9,494.0" fill="#1c1c1c"/>
<text transform="translate(586.1 505.2) rotate(-30) scale(1.0 1)" font-size="14.2" text-anchor="middle" y="5.28">580</text>
<line x1="589.1" y1="296.7" x2="611.1" y2="284.1" stroke="#1c1c1c" stroke-width="1.12"/>
<line x1="622.2" y1="277.7" x2="645.2" y2="264.5" stroke="#1c1c1c" stroke-width="1.12"/>
<polygon points="590.1,296.1 593.4,292.8 594.6,294.9" fill="#1c1c1c"/>
<polygon points="643.5,265.4 640.2,268.7 639.0,266.6" fill="#1c1c1c"/>
<text transform="translate(617.1 270.1) rotate(-30) scale(1.02 1)" font-size="14.2" text-anchor="middle" y="5.28">мин 560</text>
<line x1="643.2" y1="286.5" x2="684.3" y2="262.5" stroke="#1c1c1c" stroke-width="1.12"/>
<line x1="725.3" y1="333.2" x2="765.4" y2="309.2" stroke="#1c1c1c" stroke-width="1.12"/>
<line x1="677.2" y1="267.1" x2="707.0" y2="284.2" stroke="#1c1c1c" stroke-width="1.12"/>
<line x1="722.5" y1="293.2" x2="757.4" y2="313.2" stroke="#1c1c1c" stroke-width="1.12"/>
<polygon points="677.2,267.1 682.6,268.7 681.3,271.0" fill="#1c1c1c"/>
<polygon points="757.4,313.2 752.0,311.6 753.3,309.3" fill="#1c1c1c"/>
<text transform="translate(719.3 283.7) rotate(30) scale(1.0 1)" font-size="14.2" text-anchor="middle" y="5.28">560</text>
<line x1="749.3" y1="409.2" x2="749.3" y2="445.1" stroke="#1c1c1c" stroke-width="1.12"/>
<line x1="749.3" y1="468.2" x2="749.3" y2="504.3" stroke="#1c1c1c" stroke-width="1.12"/>
<polygon points="749.3,409.2 750.6,414.7 748.0,414.7" fill="#1c1c1c"/>
<polygon points="749.3,504.3 748.0,498.8 750.6,498.8" fill="#1c1c1c"/>
<text transform="translate(740.3 457.1) rotate(-90) scale(1.0 1)" font-size="14.2" text-anchor="middle" y="5.28">600</text>
<line x1="708.2" y1="443.1" x2="724.8" y2="433.9" stroke="#1c1c1c" stroke-width="1.12"/>
<polygon points="726.3,433.1 723.0,436.3 721.8,434.3" fill="#1c1c1c"/>
<line x1="746.4" y1="422.4" x2="731.4" y2="430.9" stroke="#1c1c1c" stroke-width="1.12"/>
<polygon points="729.9,431.7 733.2,428.5 734.4,430.5" fill="#1c1c1c"/>
<text transform="translate(703.2 453.7) rotate(-30) scale(1.0 1)" font-size="14.2" text-anchor="middle" y="5.28">70</text>
<text transform="translate(397.4 545.7) scale(1.10 1)" font-size="19.2" text-anchor="middle">Размеры в мм</text>
</svg></body></html>
